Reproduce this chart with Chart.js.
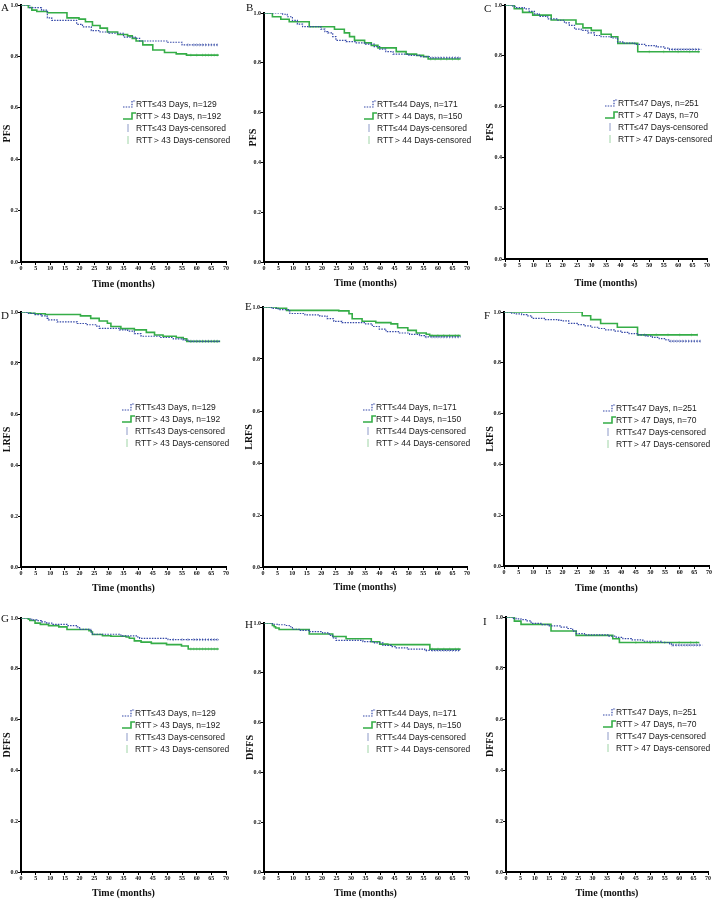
<!DOCTYPE html>
<html>
<head>
<meta charset="utf-8">
<script src="https://cdn.jsdelivr.net/npm/chart.js@4.4.0/dist/chart.umd.min.js"></script>
<style>
  body { margin: 0; background: #fff; }
  #page { position: relative; width: 714px; height: 903px; overflow: hidden; background: #fff; }
  .panel { position: absolute; }
  .letter { position: absolute; font: 11px "Liberation Serif", serif; line-height: 12px; color: #111; }
  .leg { position: absolute; font: 8.5px "Liberation Sans", Arial, sans-serif; color: #1a1a1a; white-space: nowrap; height: 10px; line-height: 10px; }
  .leg svg { position: absolute; left: 0; top: 1px; }
  .leg span { position: absolute; left: 13px; top: 0; }
</style>
</head>
<body>
<div id="page"></div>
<script>
const panelLetters = ["A", "B", "C", "D", "E", "F", "G", "H", "I"];
const endpoints = ["PFS", "PFS", "PFS", "LRFS", "LRFS", "LRFS", "DFFS", "DFFS", "DFFS"];
const cutoffs = [43, 44, 47, 43, 44, 47, 43, 44, 47];
const nShort = [129, 171, 251, 129, 171, 251, 129, 171, 251];
const nLong = [192, 150, 70, 192, 150, 70, 192, 150, 70];
const timeTicks = [0, 5, 10, 15, 20, 25, 30, 35, 40, 45, 50, 55, 60, 65, 70];
const survTicks = [0, 0.2, 0.4, 0.6, 0.8, 1.0];
const xTitle = "Time (months)";

// A: PFS, cut 43
const timeA1 = [0, 3, 7, 9, 10.5, 19, 21, 24, 27, 30, 35, 39, 40.5, 50, 55, 67.5];
const survA1 = [1, 0.99, 0.98, 0.95, 0.94, 0.925, 0.915, 0.9, 0.895, 0.89, 0.875, 0.87, 0.86, 0.855, 0.845, 0.845];
const censA1 = [57, 59, 60, 61, 62, 63, 64, 65, 66, 67];
const timeA2 = [0, 2.5, 3.7, 5.4, 9, 15.7, 19.8, 22, 24.4, 27, 29.5, 33, 36.4, 38, 39.3, 41.6, 45, 49, 53, 56.5, 67.5];
const survA2 = [1, 0.99, 0.98, 0.975, 0.97, 0.95, 0.945, 0.935, 0.92, 0.91, 0.895, 0.885, 0.88, 0.87, 0.86, 0.845, 0.825, 0.815, 0.81, 0.805, 0.805];
const censA2 = [58, 60, 62, 63, 64, 65, 66, 67];

// B: PFS, cut 44
const timeB1 = [0, 6.4, 8, 9.8, 11.5, 13.3, 19.6, 21, 22, 23.7, 24.8, 28.3, 31.8, 35, 38, 39.9, 42, 44.5, 50, 54, 57, 67.8];
const survB1 = [1, 0.995, 0.985, 0.97, 0.955, 0.945, 0.935, 0.925, 0.92, 0.905, 0.89, 0.885, 0.88, 0.875, 0.865, 0.855, 0.845, 0.835, 0.83, 0.825, 0.82, 0.82];
const censB1 = [58, 59, 60, 61, 62, 63, 64, 65, 66, 67];
const timeB2 = [0, 2.9, 5.8, 8.7, 15.6, 24.3, 27.7, 29.5, 31.2, 34.7, 37, 39.3, 45.6, 49, 52.6, 55, 56.6, 67.8];
const survB2 = [1, 0.985, 0.975, 0.965, 0.945, 0.935, 0.92, 0.905, 0.89, 0.88, 0.87, 0.86, 0.845, 0.835, 0.83, 0.825, 0.815, 0.815];
const censB2 = [57.5, 59, 61, 63, 65, 67];

// C: PFS, cut 47
const timeC1 = [0, 2.7, 3.5, 6.7, 8.4, 10.2, 11.9, 14.8, 18.3, 20.6, 22.3, 24.1, 26.4, 28.7, 31, 33.3, 36.8, 39, 40.8, 44.9, 48.4, 52.4, 55.3, 57, 68];
const survC1 = [1, 0.995, 0.99, 0.985, 0.975, 0.965, 0.955, 0.945, 0.94, 0.93, 0.92, 0.905, 0.9, 0.89, 0.88, 0.875, 0.87, 0.855, 0.85, 0.845, 0.84, 0.835, 0.83, 0.825, 0.825];
const censC1 = [57, 58, 59, 60, 61, 62, 63, 64, 65, 66, 67];
const timeC2 = [0, 3.2, 6.1, 9.6, 16, 24.6, 27, 29.9, 33.3, 36.8, 39.1, 46, 67.5];
const survC2 = [1, 0.985, 0.971, 0.96, 0.941, 0.925, 0.91, 0.9, 0.885, 0.875, 0.849, 0.816, 0.816];
const censC2 = [50, 55, 60, 64, 67];

// D: LRFS, cut 43
const timeD1 = [0, 2, 4.8, 7, 8.9, 9.4, 12.3, 19.2, 22.6, 25.5, 26.7, 33.6, 36.4, 38.7, 41, 47.4, 52, 55.4, 57, 68];
const survD1 = [1, 0.995, 0.99, 0.985, 0.975, 0.969, 0.961, 0.955, 0.95, 0.945, 0.936, 0.93, 0.925, 0.915, 0.905, 0.9, 0.895, 0.89, 0.885, 0.885];
const censD1 = [58, 59, 60, 61, 62, 63, 64, 65, 66, 67];
const timeD2 = [0, 3.1, 4.8, 8.3, 20.3, 23.8, 26.7, 29.5, 30.7, 34.1, 38.7, 42.8, 45.6, 48.5, 53, 55.4, 56.6, 68];
const survD2 = [1, 0.995, 0.993, 0.99, 0.985, 0.975, 0.965, 0.956, 0.943, 0.935, 0.93, 0.92, 0.91, 0.905, 0.9, 0.895, 0.885, 0.885];
const censD2 = [58, 60, 62, 64, 66, 67];

// E: LRFS, cut 44
const timeE1 = [0, 2.9, 5.2, 8.7, 9.2, 14.4, 19.5, 22, 24.3, 27.1, 35.2, 37.5, 39.9, 42.2, 46.8, 50.3, 53.7, 55.4, 67.8];
const survE1 = [1, 0.995, 0.99, 0.985, 0.975, 0.97, 0.965, 0.955, 0.945, 0.94, 0.935, 0.925, 0.915, 0.905, 0.9, 0.895, 0.89, 0.885, 0.885];
const censE1 = [56, 58, 59, 60, 61, 62, 63, 64, 65, 66, 67];
const timeE2 = [0, 4.6, 8.1, 26, 29.5, 30.6, 34, 38.7, 43.9, 46.2, 49.7, 52.6, 56, 57.2, 67.8];
const survE2 = [1, 0.995, 0.987, 0.985, 0.974, 0.955, 0.945, 0.94, 0.935, 0.92, 0.91, 0.9, 0.895, 0.89, 0.89];
const censE2 = [58, 60, 62, 64, 66, 67];

// F: LRFS, cut 47
const timeF1 = [0, 2.6, 4, 6, 7.8, 9.5, 14.1, 18.7, 20, 22.1, 25, 27.3, 29.6, 32.4, 34.7, 37.6, 39.9, 42.7, 45.6, 48.5, 50.7, 53, 55.3, 56.5, 67.4];
const survF1 = [1, 0.995, 0.993, 0.99, 0.985, 0.975, 0.97, 0.967, 0.965, 0.955, 0.95, 0.945, 0.94, 0.935, 0.93, 0.925, 0.92, 0.915, 0.91, 0.905, 0.9, 0.895, 0.89, 0.885, 0.885];
const censF1 = [57, 58, 59, 60, 61, 62, 63, 64, 65, 66, 67];
const timeF2 = [0, 26.7, 29.6, 33, 38.7, 45.6, 66.2];
const survF2 = [1, 0.985, 0.97, 0.955, 0.94, 0.91, 0.91];
const censF2 = [48, 52, 56, 60, 64, 66];

// G: DFFS, cut 43
const timeG1 = [0, 3.1, 3.7, 5.4, 7, 8.8, 10.5, 15.7, 19.2, 20, 23.8, 24.4, 33.6, 34.5, 39.9, 40.5, 50.2, 67.5];
const survG1 = [1, 0.995, 0.993, 0.99, 0.985, 0.98, 0.975, 0.97, 0.965, 0.955, 0.945, 0.936, 0.933, 0.93, 0.925, 0.92, 0.915, 0.915];
const censG1 = [52, 55, 57, 59, 60, 61, 62, 63, 64, 65, 66, 67];
const timeG2 = [0, 2.5, 3, 4.8, 6.6, 9.4, 12.9, 15.7, 23.2, 24, 24.4, 27.8, 30.7, 35.9, 37, 38.7, 41, 44.5, 49.7, 54.8, 57.1, 67.5];
const survG2 = [1, 0.995, 0.99, 0.98, 0.975, 0.97, 0.965, 0.955, 0.95, 0.945, 0.935, 0.93, 0.928, 0.925, 0.92, 0.91, 0.905, 0.9, 0.895, 0.89, 0.878, 0.878];
const censG2 = [58, 59, 60, 61, 62, 63, 64, 65, 66, 67];

// H: DFFS, cut 44
const timeH1 = [0, 2.9, 4.6, 7.5, 8.7, 9.8, 12.1, 15.6, 20.2, 22.5, 23.7, 24.8, 34.1, 38.1, 41, 43.9, 45.6, 49.7, 55.4, 67.8];
const survH1 = [1, 0.995, 0.993, 0.99, 0.985, 0.975, 0.97, 0.965, 0.96, 0.95, 0.94, 0.93, 0.925, 0.92, 0.91, 0.905, 0.9, 0.895, 0.89, 0.89];
const censH1 = [56, 58, 59, 60, 61, 62, 63, 64, 65, 66, 67];
const timeH2 = [0, 2.9, 3.5, 4, 5.2, 15.6, 23.7, 28.3, 37, 39.9, 42.7, 57.2, 67.8];
const survH2 = [1, 0.99, 0.985, 0.98, 0.974, 0.956, 0.946, 0.937, 0.925, 0.915, 0.913, 0.895, 0.895];
const censH2 = [58, 60, 62, 64, 66, 67];

// I: DFFS, cut 47
const timeI1 = [0, 2.3, 3.5, 5.2, 6.9, 8.7, 12.1, 15, 19.1, 21.4, 23.1, 24.3, 27.2, 35.3, 38.2, 40.5, 43.4, 47.4, 53.8, 56.7, 57.3, 68];
const survI1 = [1, 0.995, 0.993, 0.99, 0.985, 0.975, 0.97, 0.965, 0.96, 0.955, 0.945, 0.935, 0.93, 0.925, 0.92, 0.915, 0.91, 0.905, 0.9, 0.895, 0.89, 0.89];
const censI1 = [57.5, 58, 59, 60, 61, 62, 63, 64, 65, 66, 67];
const timeI2 = [0, 2.9, 5.2, 15.6, 24.3, 37, 39.3, 67];
const survI2 = [1, 0.984, 0.971, 0.945, 0.928, 0.915, 0.9, 0.9];
const censI2 = [45, 50, 55, 60, 64, 66];

const curves = [
  [timeA1, survA1, censA1, timeA2, survA2, censA2],
  [timeB1, survB1, censB1, timeB2, survB2, censB2],
  [timeC1, survC1, censC1, timeC2, survC2, censC2],
  [timeD1, survD1, censD1, timeD2, survD2, censD2],
  [timeE1, survE1, censE1, timeE2, survE2, censE2],
  [timeF1, survF1, censF1, timeF2, survF2, censF2],
  [timeG1, survG1, censG1, timeG2, survG2, censG2],
  [timeH1, survH1, censH1, timeH2, survH2, censH2],
  [timeI1, survI1, censI1, timeI2, survI2, censI2]
];

// panel boxes on the page (plot-area margins inside each canvas)
const boxes = [
  { x: 0,   y: 0,   w: 240, h: 300, l: 21, r: 14, t: 5,  xh: 38, yt: 7,  xt: 16, lg: [123, 104], lt: [5, 7] },
  { x: 240, y: 0,   w: 238, h: 300, l: 24, r: 11, t: 13, xh: 38, yt: 13, xt: 17, lg: [124, 104], lt: [10, 7] },
  { x: 478, y: 0,   w: 236, h: 300, l: 27, r: 7,  t: 5,  xh: 41, yt: 12, xt: 17, lg: [127, 103], lt: [10, 8] },
  { x: 0,   y: 300, w: 240, h: 300, l: 21, r: 14, t: 12, xh: 33, yt: 7,  xt: 12, lg: [122, 107], lt: [5, 15] },
  { x: 240, y: 300, w: 238, h: 300, l: 23, r: 11, t: 7,  xh: 33, yt: 9,  xt: 13, lg: [123, 107], lt: [9, 6] },
  { x: 478, y: 300, w: 236, h: 300, l: 26, r: 5,  t: 12, xh: 34, yt: 12, xt: 12, lg: [125, 108], lt: [10, 15] },
  { x: 0,   y: 600, w: 240, h: 303, l: 21, r: 14, t: 18, xh: 31, yt: 7,  xt: 10, lg: [122, 113], lt: [5, 18] },
  { x: 240, y: 600, w: 238, h: 303, l: 24, r: 11, t: 23, xh: 31, yt: 10, xt: 10, lg: [123, 113], lt: [9, 24] },
  { x: 478, y: 600, w: 236, h: 303, l: 28, r: 6,  t: 17, xh: 31, yt: 12, xt: 10, lg: [125, 112], lt: [9, 21] }
];

const BLUE = "#3448a8";
const GREEN = "#35ad47";
const BLUE_C = "#8d9ac8";
const GREEN_C = "#9fd4a6";

function steps(times, surv) {
  return times.map((t, i) => ({ x: t, y: surv[i] }));
}
function survAt(times, surv, t) {
  let v = surv[0];
  for (let i = 0; i < times.length; i++) if (times[i] <= t) v = surv[i];
  return v;
}
function marks(cens, times, surv) {
  return cens.map(t => ({ x: t, y: survAt(times, surv, t) }));
}

function legendIcon(kind) {
  if (kind === "blue")
    return '<svg width="13" height="8"><polyline points="0,7 9,7 9,1 13,1" fill="none" stroke="' + BLUE + '" stroke-width="1.2" stroke-dasharray="1.5,1.2"/></svg>';
  if (kind === "green")
    return '<svg width="13" height="8"><polyline points="0,7 9,7 9,1 13,1" fill="none" stroke="' + GREEN + '" stroke-width="1.6"/></svg>';
  const col = kind === "blueC" ? BLUE_C : GREEN_C;
  return '<svg width="13" height="8"><line x1="5" y1="0" x2="5" y2="8" stroke="' + col + '" stroke-width="1"/></svg>';
}

const page = document.getElementById("page");

panelLetters.forEach((letter, p) => {
  const b = boxes[p];
  const [t1, s1, c1, t2, s2, c2] = curves[p];
  const cut = cutoffs[p];

  const wrap = document.createElement("div");
  wrap.className = "panel";
  wrap.style.left = b.x + "px";
  wrap.style.top = b.y + "px";
  const canvas = document.createElement("canvas");
  canvas.width = b.w;
  canvas.height = b.h;
  wrap.appendChild(canvas);
  page.appendChild(wrap);

  const lab = document.createElement("div");
  lab.className = "letter";
  lab.textContent = letter;
  lab.style.left = (b.x + b.lt[0] - 4) + "px";
  lab.style.top = (b.y + b.lt[1] - 6) + "px";
  page.appendChild(lab);

  const rows = [
    ["blue", "RTT≤" + cut + " Days, n=" + nShort[p]],
    ["green", "RTT＞" + cut + " Days, n=" + nLong[p]],
    ["blueC", "RTT≤" + cut + " Days-censored"],
    ["greenC", "RTT＞" + cut + " Days-censored"]
  ];
  rows.forEach((row, i) => {
    const d = document.createElement("div");
    d.className = "leg";
    d.style.left = (b.x + b.lg[0]) + "px";
    d.style.top = (b.y + b.lg[1] - 5 + i * 12) + "px";
    d.innerHTML = legendIcon(row[0]) + "<span></span>";
    d.querySelector("span").textContent = row[1];
    page.appendChild(d);
  });

  new Chart(canvas, {
    type: "line",
    data: {
      datasets: [
        { label: rows[0][1], data: steps(t1, s1), borderColor: BLUE, borderWidth: 1.2,
          borderDash: [1.5, 1.2], stepped: true, pointRadius: 0, fill: false },
        { label: rows[1][1], data: steps(t2, s2), borderColor: GREEN, borderWidth: 1.6,
          stepped: true, pointRadius: 0, fill: false },
        { label: rows[2][1], data: marks(c1, t1, s1), showLine: false, pointStyle: "line",
          rotation: 90, pointRadius: 1.5, borderColor: BLUE_C, borderWidth: 0.8 },
        { label: rows[3][1], data: marks(c2, t2, s2), showLine: false, pointStyle: "line",
          rotation: 90, pointRadius: 1.5, borderColor: GREEN_C, borderWidth: 0.8 }
      ]
    },
    options: {
      responsive: false,
      animation: false,
      layout: { padding: { top: b.t, right: b.r, left: 0, bottom: 0 } },
      plugins: { legend: { display: false }, tooltip: { enabled: false } },
      scales: {
        x: {
          type: "linear", min: 0, max: 70,
          afterBuildTicks: s => { s.ticks = timeTicks.map(v => ({ value: v })); },
          afterFit: s => { s.height = b.xh; },
          border: { color: "#000", width: 2 },
          grid: { drawOnChartArea: false, color: "#000", tickLength: 3, lineWidth: 1 },
          ticks: { autoSkip: false, maxRotation: 0, padding: 0, color: "#111",
                   font: { family: "Liberation Serif", size: 6, weight: "bold" } },
          title: { display: true, text: xTitle, color: "#111",
                   padding: { top: 0, bottom: b.xt - 6 },
                   font: { family: "Liberation Serif", size: 10, weight: "bold" } }
        },
        y: {
          min: 0, max: 1,
          afterBuildTicks: s => { s.ticks = survTicks.map(v => ({ value: v })); },
          afterFit: s => { s.width = b.l; },
          border: { color: "#000", width: 2 },
          grid: { drawOnChartArea: false, color: "#000", tickLength: 3, lineWidth: 1 },
          ticks: { padding: 0, color: "#111", callback: v => v.toFixed(1),
                   font: { family: "Liberation Serif", size: 6, weight: "bold" } },
          title: { display: true, text: endpoints[p], color: "#111",
                   padding: { top: b.yt - 6, bottom: 0 },
                   font: { family: "Liberation Serif", size: 10, weight: "bold" } }
        }
      }
    }
  });
});
</script>
</body>
</html>
